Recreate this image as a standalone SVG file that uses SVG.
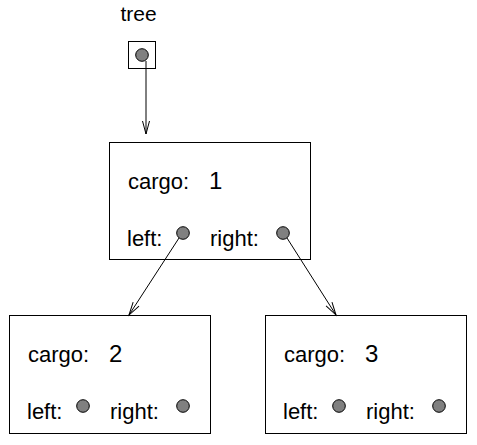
<svg xmlns="http://www.w3.org/2000/svg" width="477" height="445" viewBox="0 0 477 445">
<defs>
<style>
.box{fill:#fff;stroke:#000;stroke-width:1}
.lbl{font-family:"Liberation Sans",Arial,sans-serif;font-size:22px;fill:#000}
.num{font-family:"Liberation Sans",Arial,sans-serif;font-size:24px;fill:#000}
.dot{fill:#808080;stroke:#000;stroke-width:1}
.edge{stroke:#000;stroke-width:1;fill:none;marker-end:url(#arr)}
</style>
<marker id="arr" markerUnits="userSpaceOnUse" markerWidth="16" markerHeight="10" refX="13" refY="3.5" orient="auto" overflow="visible">
<path d="M0,0 L13,3.5 L0,7" fill="none" stroke="#000" stroke-width="1"/>
</marker>
</defs>
<g id="tree">
<text class="lbl" style="font-size:21px" x="138.5" y="21" text-anchor="middle">tree</text>
<rect class="box" x="128.5" y="41.5" width="27" height="27"/>
<circle class="dot" cx="142" cy="55" r="6.3"/>
</g>
<g id="node1">
<rect class="box" x="109.5" y="142.5" width="201" height="117"/>
<text class="lbl" x="128" y="188.5">cargo:</text>
<text class="num" x="209" y="188.5">1</text>
<text class="lbl" x="127" y="246">left:</text>
<circle class="dot" cx="183" cy="233" r="6.3"/>
<text class="lbl" x="210" y="246">right:</text>
<circle class="dot" cx="283" cy="233" r="6.3"/>
</g>
<g id="node2">
<rect class="box" x="9.5" y="315.5" width="201" height="118"/>
<text class="lbl" x="28" y="361.5">cargo:</text>
<text class="num" x="109" y="361.5">2</text>
<text class="lbl" x="27" y="419">left:</text>
<circle class="dot" cx="83" cy="406" r="6.3"/>
<text class="lbl" x="110" y="419">right:</text>
<circle class="dot" cx="183" cy="406" r="6.3"/>
</g>
<g id="node3">
<rect class="box" x="265.5" y="315.5" width="201" height="118"/>
<text class="lbl" x="284" y="361.5">cargo:</text>
<text class="num" x="365" y="361.5">3</text>
<text class="lbl" x="283" y="419">left:</text>
<circle class="dot" cx="339" cy="406" r="6.3"/>
<text class="lbl" x="366" y="419">right:</text>
<circle class="dot" cx="439" cy="406" r="6.3"/>
</g>
<g id="connectors">
<path class="edge" d="M146,61 L146,134"/>
<path class="edge" d="M179,238 L129,315"/>
<path class="edge" d="M287,238 L336,315"/>
</g>
</svg>
